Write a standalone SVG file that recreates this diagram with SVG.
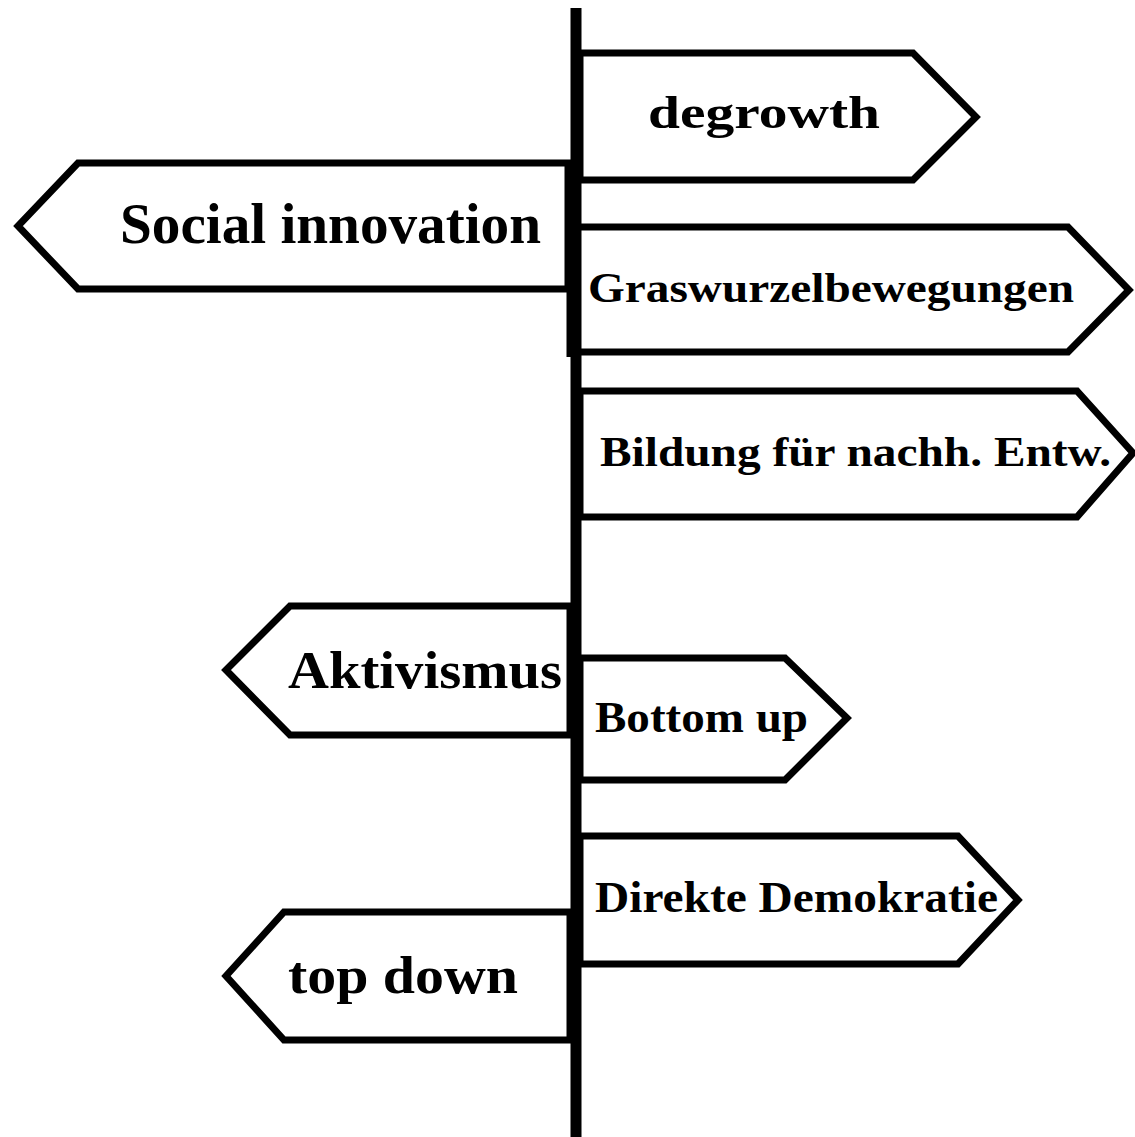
<svg xmlns="http://www.w3.org/2000/svg" width="1135" height="1137" viewBox="0 0 1135 1137">
<style>
.sign{fill:#fff;stroke:#000;stroke-width:7;stroke-linejoin:miter}
.pole{stroke:#000;fill:none}
text{font-family:"Liberation Serif","Times New Roman",serif;font-weight:bold;fill:#000}
</style>
<rect width="1135" height="1137" fill="#fff"/>
<g id="connectors">
<line class="pole" x1="576" y1="8" x2="576" y2="1137" stroke-width="11"/>
<line class="pole" x1="572" y1="160" x2="572" y2="357" stroke-width="11"/>
</g>
<g id="degrowth">
<polygon class="sign" points="580,53 913,53 976,117 913,180 580,180"/>
<text x="648" y="128" font-size="47" textLength="232" lengthAdjust="spacingAndGlyphs">degrowth</text>
</g>
<g id="social-innovation">
<polygon class="sign" points="568,163 78,163 18,226 78,289 568,289"/>
<text x="120" y="243" font-size="56" textLength="421" lengthAdjust="spacingAndGlyphs">Social innovation</text>
</g>
<g id="graswurzelbewegungen">
<polygon class="sign" points="578,227 1068,227 1129,290 1068,352 578,352"/>
<text x="588" y="302" font-size="43" textLength="486" lengthAdjust="spacingAndGlyphs">Graswurzelbewegungen</text>
</g>
<g id="bildung">
<polygon class="sign" points="580,391 1077,391 1133,453 1077,517 580,517"/>
<text x="600" y="466" font-size="43" textLength="511" lengthAdjust="spacingAndGlyphs">Bildung für nachh. Entw.</text>
</g>
<g id="aktivismus">
<polygon class="sign" points="570,606 290,606 226,670 290,735 570,735"/>
<text x="288" y="688" font-size="52" textLength="274" lengthAdjust="spacingAndGlyphs">Aktivismus</text>
</g>
<g id="bottom-up">
<polygon class="sign" points="580,658 785,658 847,718 785,780 580,780"/>
<text x="595" y="732" font-size="44" textLength="213" lengthAdjust="spacingAndGlyphs">Bottom up</text>
</g>
<g id="direkte-demokratie">
<polygon class="sign" points="580,836 958,836 1018,900 958,964 580,964"/>
<text x="595" y="912" font-size="44" textLength="403" lengthAdjust="spacingAndGlyphs">Direkte Demokratie</text>
</g>
<g id="top-down">
<polygon class="sign" points="570,912 284,912 226,976 284,1040 570,1040"/>
<text x="288" y="993" font-size="52" textLength="230" lengthAdjust="spacingAndGlyphs">top down</text>
</g>
</svg>
